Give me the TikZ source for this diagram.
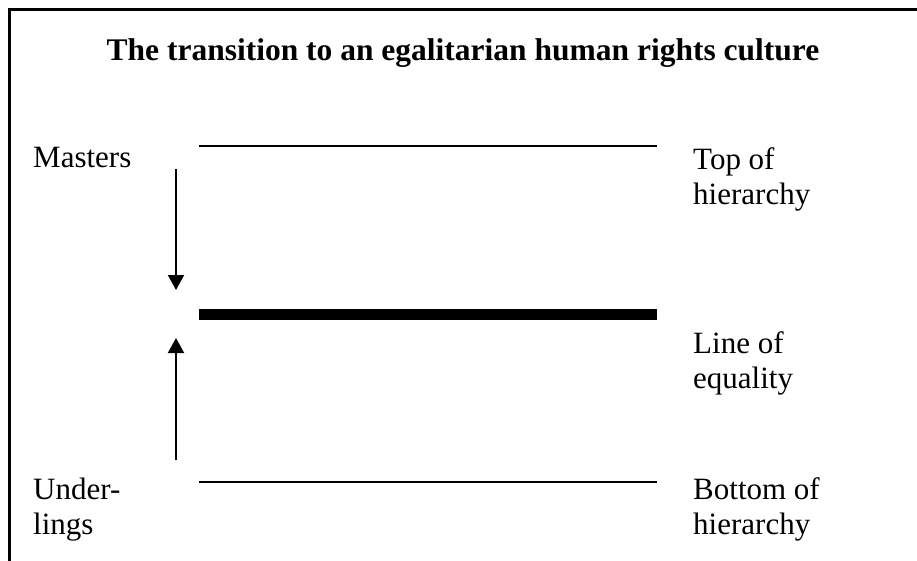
\documentclass[tikz,border=0pt]{standalone}
\usepackage{fontspec}
\setmainfont{Liberation Serif}
\usepackage{tikz}
\usetikzlibrary{arrows.meta,positioning}

\begin{document}
\begin{tikzpicture}[x=1pt, y=-1pt,
        txt/.style={anchor=base west, inner sep=0pt, align=left, font=\fontsize{31}{35}\selectfont},
        ttl/.style={anchor=base, inner sep=0pt, font=\fontsize{31.5}{35}\selectfont\bfseries},
        level/.style={line width=2pt},
        equal/.style={line width=11pt},
        arrow/.style={line width=2pt, -{Triangle[width=16pt, length=15pt]}}
    ]
    \useasboundingbox (0,0) rectangle (917,560);
    \clip (0,0) rectangle (917,560);

    % Frame (runs off the right and bottom edges)
    \draw[line width=3pt] (9.5,9.5) rectangle (940,580);

    % Title
    \node[ttl] (title) at (463,60) {The transition to an egalitarian human rights culture};

    % Left labels (multi-line nodes sit on their last baseline)
    \node[txt] (masters) at (33,167) {Masters};
    \node[txt] (underlings) at (33,534) {Under-\\lings};

    % Right labels
    \node[txt] (top) at (693,204) {Top of\\hierarchy};
    \node[txt] (equality) at (693,388) {Line of\\equality};
    \node[txt] (bottom) at (693,534) {Bottom of\\hierarchy};

    % Levels
    \coordinate (topL) at (199,146);
    \coordinate (topR) at (657,146);
    \coordinate (eqL) at (199,314.5);
    \coordinate (eqR) at (657,314.5);
    \coordinate (botL) at (199,482);
    \coordinate (botR) at (657,482);
    \draw[level] (topL) -- (topR);
    \draw[equal] (eqL) -- (eqR);
    \draw[level] (botL) -- (botR);

    % Arrows towards the line of equality
    \coordinate (downS) at (176,169);
    \coordinate (downE) at (176,290);
    \coordinate (upS) at (176,460);
    \coordinate (upE) at (176,338);
    \draw[arrow] (downS) -- (downE);
    \draw[arrow] (upS) -- (upE);

\end{tikzpicture}
\end{document}
